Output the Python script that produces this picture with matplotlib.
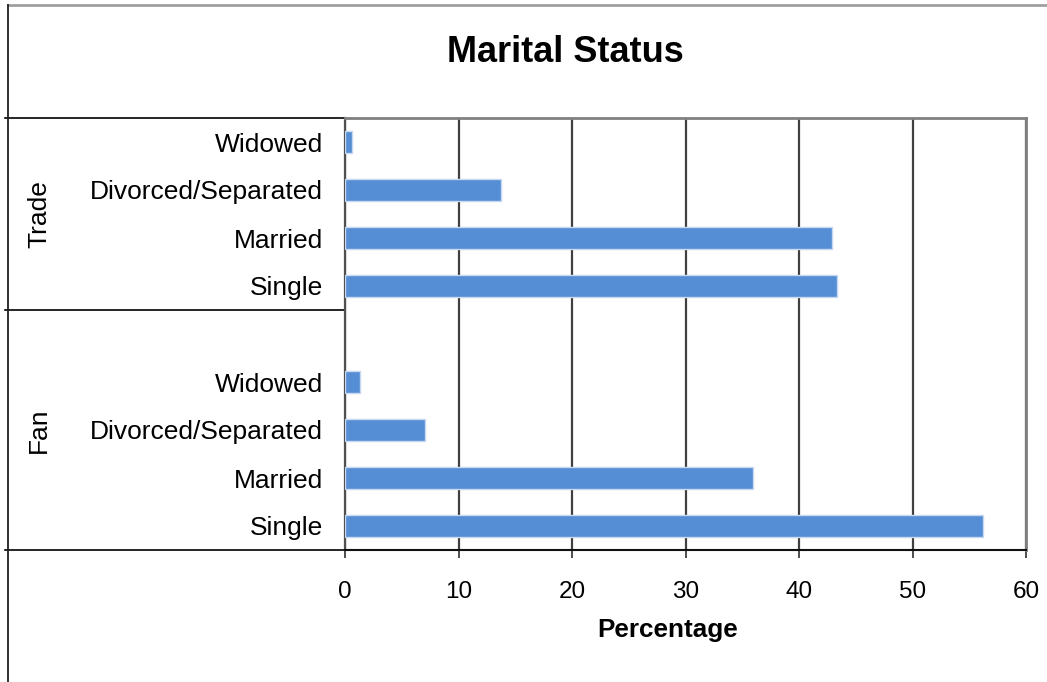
import matplotlib
matplotlib.use("Agg")
import matplotlib.pyplot as plt
from matplotlib.lines import Line2D
from matplotlib.transforms import blended_transform_factory

# ---- data ----
groups = ["Trade", "Fan"]
categories = ["Widowed", "Divorced/Separated", "Married", "Single"]
trade_values = [0.6, 13.7, 42.9, 43.3]
fan_values = [1.3, 7.0, 35.9, 56.2]
x_ticks = [0, 10, 20, 30, 40, 50, 60]
title = "Marital Status"
x_label = "Percentage"

plt.rcParams['font.family'] = ['Liberation Sans', 'DejaVu Sans']

W, H = 1047, 682
fig = plt.figure(figsize=(W / 100, H / 100), dpi=100)
fig.patch.set_facecolor("white")

ax_l, ax_r, ax_t, ax_b = 345.3, 1026, 118, 550
ax = fig.add_axes([ax_l / W, 1 - ax_b / H, (ax_r - ax_l) / W, (ax_b - ax_t) / H])

# positions: Trade on top (4 slots), Fan below (5 slots, top one empty)
n = len(categories)
trade_pos = [2 * n - i for i in range(n)]          # 8,7,6,5
fan_pos = [n - 1 - i for i in range(n)]            # 3,2,1,0
bar_color = "#558ED5"
edge_color = "#C6D9F1"

ax.barh(trade_pos, trade_values, height=0.44, color=bar_color,
        edgecolor=edge_color, linewidth=1.0, zorder=3)
ax.barh(fan_pos, fan_values, height=0.44, color=bar_color,
        edgecolor=edge_color, linewidth=1.0, zorder=3)

ax.set_xlim(0, 60)
ax.set_ylim(-0.5, 2 * n + 0.5)
ax.set_xticks(x_ticks)
ax.set_xticklabels([str(t) for t in x_ticks], fontsize=17.5)
ax.set_yticks(trade_pos + fan_pos)
ax.set_yticklabels(categories + categories, fontsize=19)
ax.tick_params(axis='y', length=0, pad=16)
ax.tick_params(axis='x', length=6, width=1.2, direction='out', pad=16.5, color='#303030')

ax.grid(axis='x', color='#404040', linewidth=1.6, zorder=1)
ax.set_axisbelow(True)

for side, col, lw in [("top", "#808080", 2.0), ("right", "#808080", 2.0),
                      ("left", "#505050", 1.6), ("bottom", "#101010", 1.5)]:
    ax.spines[side].set_color(col)
    ax.spines[side].set_linewidth(lw)

# group separator lines and labels
tr = blended_transform_factory(fig.transFigure, ax.transData)
x_left = 8 / W
for yb in [2 * n + 0.5, n + 0.5, -0.5]:
    ax.add_line(Line2D([x_left - 0.003, ax_l / W], [yb, yb], transform=tr,
                       color="black", linewidth=1.2, clip_on=False))
group_centers = [(2 * n + 0.5 + n + 0.5) / 2, (n + 0.5 - 0.5) / 2]
for g, yc in zip(groups, group_centers):
    ax.text(39 / W, yc, g, transform=tr, rotation=90, ha='center', va='center',
            fontsize=19)

# chart area border (top and left visible)
fig.add_artist(Line2D([x_left, 1.0], [1 - 5 / H, 1 - 5 / H], transform=fig.transFigure,
                      color="#A0A0A0", linewidth=2.0))
fig.add_artist(Line2D([x_left, x_left], [0, 1 - 5 / H], transform=fig.transFigure,
                      color="#202020", linewidth=1.3))

fig.text(565.5 / W, 1 - 52.5 / H, title, ha='center', va='center',
         fontsize=26, fontweight='bold')
fig.text(668 / W, 1 - 630.5 / H, x_label, ha='center', va='center',
         fontsize=18.8, fontweight='bold')

fig.savefig("out.png", dpi=100)
